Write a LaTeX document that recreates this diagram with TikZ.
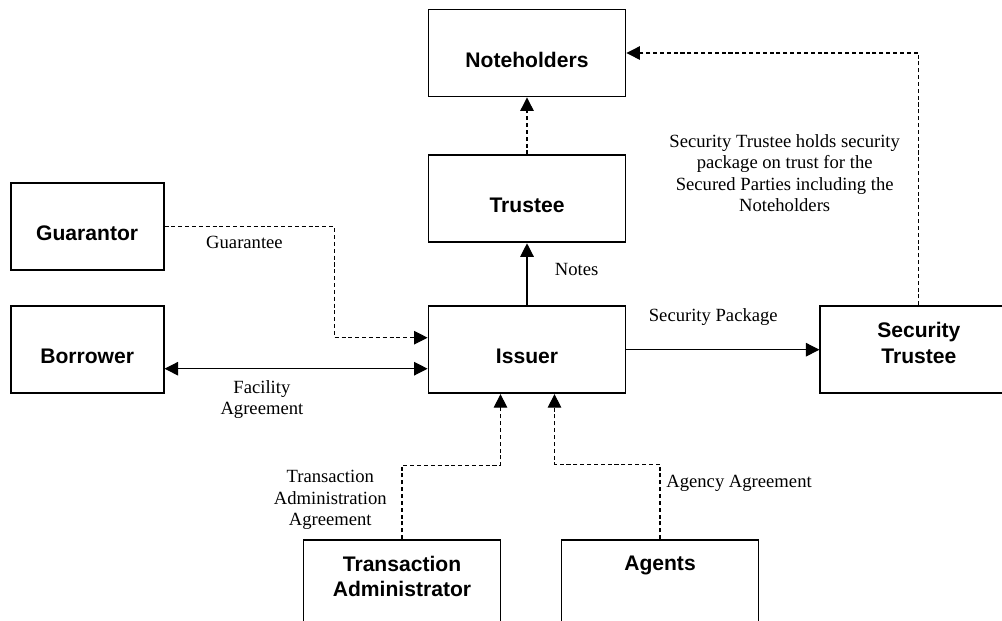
\documentclass[tikz,border=0pt]{standalone}
\usepackage{fontspec}
\setmainfont{Liberation Serif}
\setsansfont{Liberation Sans}
\usepackage{tikz}
\usetikzlibrary{arrows.meta, positioning}

\begin{document}
\begin{tikzpicture}[>={Triangle[length=0.27cm, width=0.27cm]},
    box/.style={draw, line width=1.05pt, minimum width=3.94cm, minimum height=1.74cm,
        align=center, font=\sffamily\bfseries\fontsize{12}{14.5}\selectfont,
        text height=16pt, text depth=0pt},
    twoline/.style={box, text height=15.2pt},
    boxtop/.style={box, text height=9pt, text depth=23.7pt},
    smallbox/.style={box, minimum width=3.06cm},
    link/.style={line width=0.65pt},
    dashlink/.style={line width=0.6pt, dash pattern=on 2.3pt off 1.6pt},
    lbl/.style={font=\fontsize{10.6}{12.1}\selectfont, align=center}]
        \useasboundingbox (0,0) rectangle (20.04,-12.4);

        % Nodes
        \node[box] (noteholders) at (10.54,-1.06) {Noteholders};
        \node[box, below=1.14cm of noteholders] (trustee) {Trustee};
        \node[box, below=1.24cm of trustee] (issuer) {Issuer};
        \node[smallbox, left=5.26cm of issuer] (borrower) {Borrower};
        \node[smallbox, above=0.68cm of borrower] (guarantor) {Guarantor};
        \node[twoline, right=3.86cm of issuer] (sectrustee) {Security\\Trustee};
        \node[twoline, below=2.9cm of issuer, xshift=-2.5cm] (txadmin) {Transaction\\Administrator};
        \node[boxtop, below=2.9cm of issuer, xshift=2.66cm] (agents) {Agents};

        % Notes
        \draw[link, ->] (issuer) -- node[lbl, pos=0.57, right=0.43cm] (noteslbl) {Notes} (trustee);
        \draw[dashlink, ->] (trustee) -- (noteholders);

        % Guarantee
        \draw[dashlink, ->] (guarantor.east) -| node[lbl, pos=0.235, below, yshift=-0.06cm] (guarlbl) {Guarantee}
            ([xshift=-1.86cm, yshift=0.24cm]issuer.west) -- ([yshift=0.24cm]issuer.west);

        % Facility Agreement
        \draw[link, <->] ([yshift=-0.38cm]borrower.east) -- node[lbl, pos=0.37, below, yshift=-0.1cm] (facilitylbl) {Facility\\Agreement}
            ([yshift=-0.38cm]issuer.west);

        % Security Package
        \draw[link, ->] (issuer) -- node[lbl, pos=0.45, above=0.35cm] (pkglbl) {Security Package} (sectrustee);
        \draw[dashlink, ->] (sectrustee.north) |- node[lbl, pos=0.25, left=0.25cm, yshift=0.12cm] (trustlbl)
            {Security Trustee holds security\\package on trust for the\\Secured Parties including the\\Noteholders} (noteholders.east);

        % Agreements with the Issuer
        \draw[dashlink, ->] (txadmin.north) -- node[lbl, pos=0.53, left=0.18cm] (adminlbl)
            {Transaction\\Administration\\Agreement} ++(0,1.48) -| ([xshift=-0.53cm]issuer.south);
        \draw[dashlink, ->] (agents.north) -- node[lbl, pos=0.75, right] (agencylbl) {Agency Agreement}
            ++(0,1.5) -| ([xshift=0.55cm]issuer.south);
\end{tikzpicture}
\end{document}
